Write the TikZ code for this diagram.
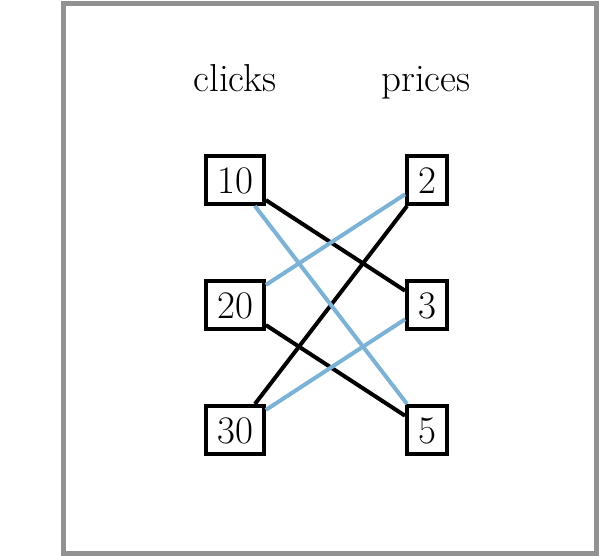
\documentclass[tikz,border=0pt]{standalone}
\usepackage{fontspec}
\begin{document}
\begin{tikzpicture}[x=1pt,y=-1pt,
  frame/.style={draw=black!43,line width=4.5pt},
  valbox/.style={draw=black,line width=4pt,fill=white,inner xsep=11pt,inner ysep=0pt,
    minimum height=48pt,text height=27pt,text depth=0pt,font=\fontsize{39}{39}\selectfont},
  lbl/.style={font=\fontsize{39}{39}\selectfont,inner sep=0pt,anchor=base},
  blk/.style={draw=black,line width=4pt},
  blu/.style={draw={rgb,255:red,122;green,178;blue,216},line width=4pt}]
\useasboundingbox (0,0) rectangle (615,556);
\draw[frame] (63.5,3.5) rectangle (596.5,553.5);
\node[lbl] (clk) at (235,92) {clicks};
\node[lbl] (prc) at (426,92) {prices};
\node[valbox] (c10) at (235,180) {10};
\node[valbox] (c20) at (235,305) {20};
\node[valbox] (c30) at (235,430) {30};
\node[valbox] (p2) at (427,180) {2};
\node[valbox] (p3) at (427,305) {3};
\node[valbox] (p5) at (427,430) {5};
\draw[blk] (c10) -- (p3);
\draw[blk] (c20) -- (p5);
\draw[blk] (c30) -- (p2);
\draw[blu] (c10) -- (p5);
\draw[blu] (c20) -- (p2);
\draw[blu] (c30) -- (p3);
\end{tikzpicture}
\end{document}
